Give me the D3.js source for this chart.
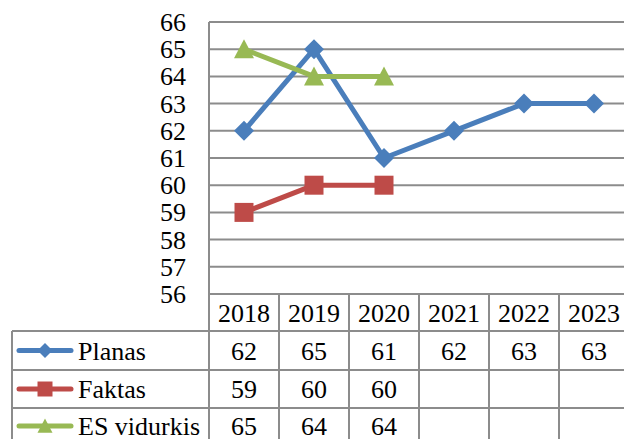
<!DOCTYPE html>
<html><head><meta charset="utf-8">
<script src="https://cdn.jsdelivr.net/npm/d3@7"></script>
</head><body style="margin:0">
<script>
const years = ["2018","2019","2020","2021","2022","2023"];
const planas = [62,65,61,62,63,63];
const faktas = [59,60,60,null,null,null];
const esVidurkis = [65,64,64,null,null,null];
const yTicks = [56,57,58,59,60,61,62,63,64,65,66];
const seriesNames = ["Planas","Faktas","ES vidurkis"];
const seriesColors = ["#4A7EBB","#BE4B48","#98B954"];
const seriesMarkers = ["diamond","square","triangle"];
const seriesData = [planas, faktas, esVidurkis];

const W=624,H=439;
const svg=d3.select("body").append("svg").attr("width",W).attr("height",H)
  .attr("font-family","Liberation Serif").attr("font-size",26)
  .style("font-family",'"Liberation Serif", monospace').style("font-size","26px");
const grid="#8c8c8c";
const x=d3.scaleBand().domain(years).range([209,629]);
const y=d3.scaleLinear().domain([56,66]).range([294,22]);
const rowEdges=[294,331,370,408,447];
const legendLeft=12;
// baseline offset for vertical centering (approx 0.34em of 26px)
const BL=9;

// gridlines
svg.append("g").selectAll("line").data(yTicks).join("line")
  .attr("x1",209).attr("x2",W).attr("y1",d=>y(d)).attr("y2",d=>y(d))
  .attr("stroke",grid).attr("stroke-width",2);

// table lines
const tg=svg.append("g").attr("stroke",grid).attr("stroke-width",2);
tg.append("line").attr("x1",209).attr("x2",209).attr("y1",y(66)).attr("y2",H);
years.forEach((yr,i)=>{ if(i>0) tg.append("line").attr("x1",x(yr)).attr("x2",x(yr)).attr("y1",rowEdges[0]).attr("y2",H); });
tg.append("line").attr("x1",legendLeft).attr("x2",legendLeft).attr("y1",rowEdges[1]).attr("y2",H);
rowEdges.slice(1,4).forEach(r=>tg.append("line").attr("x1",legendLeft).attr("x2",W).attr("y1",r).attr("y2",r));

function markerPath(type,s){
  if(type==="diamond") return `M0,${-s}L${s},0L0,${s}L${-s},0Z`;
  if(type==="square") return `M${-s},${-s}H${s}V${s}H${-s}Z`;
  return `M0,${-s}L${s},${s*0.9}L${-s},${s*0.9}Z`;
}

const rows=[];
seriesData.forEach((data,si)=>{
  const col=seriesColors[si];
  const pts=years.map((yr,i)=>({yr,v:data[i]})).filter(d=>d.v!=null);
  const line=d3.line().x(d=>x(d.yr)+x.bandwidth()/2).y(d=>y(d.v));
  svg.append("path").datum(pts).attr("d",line).attr("fill","none")
    .attr("stroke",col).attr("stroke-width",5).attr("stroke-linejoin","round");
  const sz= seriesMarkers[si]==="square"?9.5:10;
  svg.append("g").selectAll("path").data(pts).join("path")
    .attr("transform",d=>`translate(${x(d.yr)+x.bandwidth()/2},${y(d.v)})`)
    .attr("d",markerPath(seriesMarkers[si],sz)).attr("fill",col);
  const cy=(rowEdges[si+1]+rowEdges[si+2])/2 - (si===2?1.5:0);
  svg.append("line").attr("x1",19).attr("x2",71).attr("y1",cy).attr("y2",cy)
    .attr("stroke",col).attr("stroke-width",5).attr("stroke-linecap","round");
  svg.append("path").attr("transform",`translate(45,${cy})`)
    .attr("d",markerPath(seriesMarkers[si],7.5)).attr("fill",col);
  rows.push({cy,pts,name:seriesNames[si]});
});

// texts directly under svg
yTicks.forEach(t=>{
  svg.append("text").attr("x",186).attr("y",y(t)+BL).attr("text-anchor","end").text(t);
});
years.forEach(yr=>{
  svg.append("text").attr("x",x(yr)+x.bandwidth()/2).attr("y",(rowEdges[0]+rowEdges[1])/2+BL)
    .attr("text-anchor","middle").text(yr);
});
rows.forEach(r=>{
  svg.append("text").attr("x",78).attr("y",r.cy+BL).text(r.name);
  r.pts.forEach(p=>{
    svg.append("text").attr("x",x(p.yr)+x.bandwidth()/2).attr("y",r.cy+BL)
      .attr("text-anchor","middle").text(p.v);
  });
});
</script>
</body></html>
